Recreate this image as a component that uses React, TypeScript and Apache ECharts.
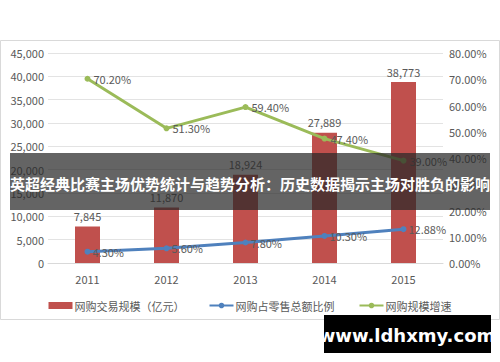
import React, { useEffect, useRef } from "react";
import * as echarts from "echarts";

const years = ["2011", "2012", "2013", "2014", "2015"];
const tradeScale = [7845, 11870, 18924, 27889, 38773];
const retailShare = [4.3, 5.6, 7.8, 10.3, 12.88];
const growthRate = [70.2, 51.3, 59.4, 47.4, 39.0];
const bannerTitle = "英超经典比赛主场优势统计与趋势分析：历史数据揭示主场对胜负的影响";
const watermark = "www.ldhxmy.com";

const FONT = "'Noto Sans CJK SC', 'Noto Sans', sans-serif";
const GRAY = "#595959";

export default function App() {
  const ref = useRef<HTMLDivElement>(null);
  useEffect(() => {
    if (!ref.current) return;
    const chart = echarts.init(ref.current, undefined, { renderer: "svg" });
    chart.setOption({
      animation: false,
      backgroundColor: "#ffffff",
      textStyle: { fontFamily: FONT },
      grid: { left: 48, right: 57, top: 53, bottom: 99 },
      legend: {
        top: 295,
        left: "center",
        itemGap: 24,
        itemWidth: 24,
        itemHeight: 7,
        textStyle: { color: GRAY, fontSize: 11, fontFamily: FONT, padding: [0, 0, 0, -3] },
        data: [
          { name: "网购交易规模（亿元）", icon: "rect" },
          { name: "网购占零售总额比例" },
          { name: "网购规模增速" },
        ],
      },
      xAxis: {
        type: "category",
        data: years,
        axisLine: { lineStyle: { color: "#d9d9d9" } },
        axisTick: { show: false },
        axisLabel: { color: GRAY, fontSize: 11, margin: 10 },
      },
      yAxis: [
        {
          type: "value",
          min: 0,
          max: 45000,
          interval: 5000,
          axisLabel: {
            color: GRAY,
            fontSize: 11,
            margin: 4,
            formatter: (v: number) => v.toLocaleString("en-US"),
          },
          splitLine: { lineStyle: { color: "#e3e3e3" } },
          axisLine: { show: false },
          axisTick: { show: false },
        },
        {
          type: "value",
          min: 0,
          max: 80,
          interval: 10,
          axisLabel: {
            color: GRAY,
            fontSize: 11,
            margin: 6,
            formatter: (v: number) => v.toFixed(2) + "%",
          },
          splitLine: { show: false },
          axisLine: { show: false },
          axisTick: { show: false },
        },
      ],
      series: [
        {
          name: "网购交易规模（亿元）",
          type: "bar",
          data: tradeScale,
          barWidth: 25,
          itemStyle: { color: "#c0504d" },
          label: {
            show: true,
            position: "top",
            color: GRAY,
            fontSize: 11,
            formatter: (p: any) => Number(p.value).toLocaleString("en-US"),
          },
        },
        {
          name: "网购占零售总额比例",
          type: "line",
          yAxisIndex: 1,
          data: retailShare,
          symbol: "circle",
          symbolSize: 6,
          lineStyle: { color: "#4f81bd", width: 3 },
          itemStyle: { color: "#4f81bd" },
          label: {
            show: true,
            position: "right",
            distance: 2,
            color: GRAY,
            fontSize: 11,
            formatter: (p: any) => Number(p.value).toFixed(2) + "%",
          },
        },
        {
          name: "网购规模增速",
          type: "line",
          yAxisIndex: 1,
          data: growthRate,
          symbol: "circle",
          symbolSize: 6,
          lineStyle: { color: "#9bbb59", width: 3 },
          itemStyle: { color: "#9bbb59" },
          label: {
            show: true,
            position: "right",
            distance: 3,
            color: GRAY,
            fontSize: 11,
            formatter: (p: any) => Number(p.value).toFixed(2) + "%",
          },
        },
      ],
      graphic: [
        {
          type: "rect",
          z: -1,
          silent: true,
          shape: { x: 0.5, y: 40.5, width: 499, height: 279 },
          style: { fill: "none", stroke: "#d9d9d9", lineWidth: 1 },
        },
        {
          type: "rect",
          z: 100,
          silent: true,
          shape: { x: 10, y: 153, width: 480, height: 57 },
          style: { fill: "rgba(40,40,40,0.72)" },
        },
        {
          type: "text",
          z: 101,
          silent: true,
          x: 10,
          y: 183,
          style: {
            text: bannerTitle,
            fill: "#ffffff",
            font: `bold 15px ${FONT}`,
            textVerticalAlign: "middle",
            verticalAlign: "middle",
          },
        },
        {
          type: "rect",
          z: 100,
          silent: true,
          shape: { x: 324, y: 315, width: 167, height: 38 },
          style: { fill: "#000000" },
        },
        {
          type: "text",
          z: 101,
          silent: true,
          x: 407,
          y: 335,
          style: {
            text: watermark,
            fill: "#ffffff",
            font: `bold 18px 'DejaVu Sans', sans-serif`,
            align: "center",
            textAlign: "center",
            verticalAlign: "middle",
            textVerticalAlign: "middle",
          },
        },
      ],
    });
    return () => chart.dispose();
  }, []);
  return (
    <div
      ref={ref}
      style={{ position: "absolute", left: 0, top: 0, width: 500, height: 362 }}
    />
  );
}
